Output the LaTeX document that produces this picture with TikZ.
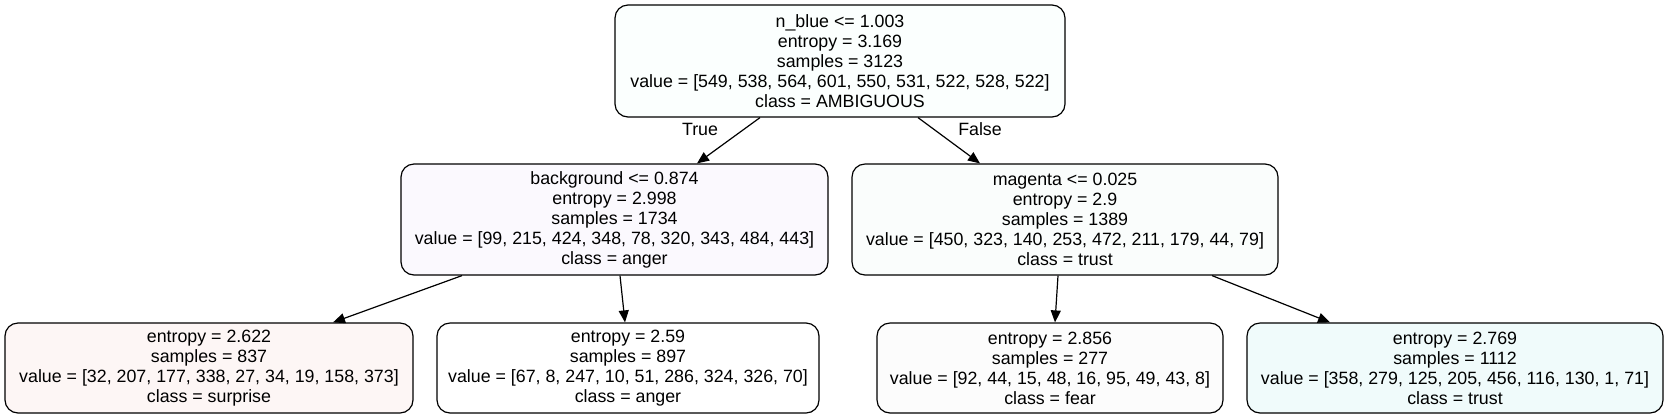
\documentclass[tikz,border=0pt]{standalone}
\usepackage{fontspec}
\setmainfont{Liberation Sans}
\usetikzlibrary{arrows.meta,calc}
\definecolor{cRoot}{HTML}{FBFFFE}
\definecolor{cBg}{HTML}{FBF9FE}
\definecolor{cMag}{HTML}{FAFDFC}
\definecolor{cLa}{HTML}{FDF6F5}
\definecolor{cLb}{HTML}{FFFFFF}
\definecolor{cLc}{HTML}{FCFCFC}
\definecolor{cLd}{HTML}{F0FBFB}
\tikzset{
  treenode/.style={draw=black, line width=0.6pt, rounded corners=6.5pt, align=center,
    inner sep=0pt, font=\fontsize{8.9}{10}\selectfont},
  edge/.style={line width=0.6pt, -{Triangle[length=6pt,width=5pt]}},
  elabel/.style={font=\fontsize{8.9}{10}\selectfont}
}
\begin{document}
\begin{tikzpicture}[x=0.5pt,y=-0.5pt]
\useasboundingbox (0,0) rectangle (1669,419);
\node[treenode, fill=cRoot, minimum width=225pt, minimum height=56pt] (root) at (840,61)
  {n\_blue <= 1.003\\entropy = 3.169\\samples = 3123\\value = [549, 538, 564, 601, 550, 531, 522, 528, 522]\\class = AMBIGUOUS};
\node[treenode, fill=cBg, minimum width=213.5pt, minimum height=55.5pt] (bg) at (614.5,219.5)
  {background <= 0.874\\entropy = 2.998\\samples = 1734\\value = [99, 215, 424, 348, 78, 320, 343, 484, 443]\\class = anger};
\node[treenode, fill=cMag, minimum width=213pt, minimum height=55.5pt] (mag) at (1065,219.5)
  {magenta <= 0.025\\entropy = 2.9\\samples = 1389\\value = [450, 323, 140, 253, 472, 211, 179, 44, 79]\\class = trust};
\node[treenode, fill=cLa, minimum width=204pt, minimum height=45pt] (la) at (209,368)
  {entropy = 2.622\\samples = 837\\value = [32, 207, 177, 338, 27, 34, 19, 158, 373]\\class = surprise};
\node[treenode, fill=cLb, minimum width=191pt, minimum height=45pt] (lb) at (628,368)
  {entropy = 2.59\\samples = 897\\value = [67, 8, 247, 10, 51, 286, 324, 326, 70]\\class = anger};
\node[treenode, fill=cLc, minimum width=173pt, minimum height=45pt] (lc) at (1050,368)
  {entropy = 2.856\\samples = 277\\value = [92, 44, 15, 48, 16, 95, 49, 43, 8]\\class = fear};
\node[treenode, fill=cLd, minimum width=208pt, minimum height=45pt] (ld) at (1455,368)
  {entropy = 2.769\\samples = 1112\\value = [358, 279, 125, 205, 456, 116, 130, 1, 71]\\class = trust};
\draw[edge] ($(root.south)+(-80,0)$) -- ($(bg.north)+(82.5,0)$);
\draw[edge] ($(root.south)+(78,0)$) -- ($(mag.north)+(-85,0)$);
\draw[edge] ($(bg.south)+(-152.5,0)$) -- ($(la.north)+(124,0)$);
\draw[edge] ($(bg.south)+(5.5,0)$) -- ($(lb.north)+(-3,0)$);
\draw[edge] ($(mag.south)+(-7,0)$) -- ($(lc.north)+(5,0)$);
\draw[edge] ($(mag.south)+(147,0)$) -- ($(ld.north)+(-125,0)$);
\node[elabel] (ltrue) at (700,129) {True};
\node[elabel] (lfalse) at (980,129) {False};
\end{tikzpicture}
\end{document}
